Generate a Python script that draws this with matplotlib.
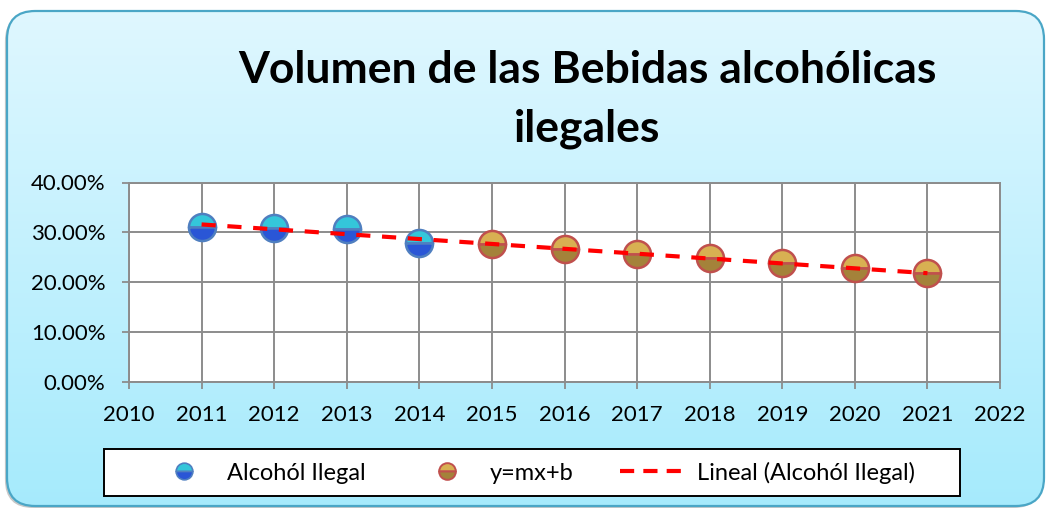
import numpy as np
import matplotlib
matplotlib.use("Agg")
import matplotlib.pyplot as plt
from matplotlib.patches import FancyBboxPatch, Rectangle
from matplotlib.lines import Line2D
from matplotlib.ticker import FuncFormatter

# data
years_obs = [2011, 2012, 2013, 2014]
alcohol_ilegal = [31.1, 30.8, 30.6, 27.9]
years_proj = [2015, 2016, 2017, 2018, 2019, 2020, 2021]
proyeccion = [27.7, 26.7, 25.7, 24.8, 23.8, 22.9, 21.8]

title = "Volumen de las Bebidas alcohólicas\nilegales"
labels = ["Alcohól Ilegal", "y=mx+b", "Lineal (Alcohól Ilegal)"]

plt.rcParams['font.family'] = ['Lato', 'DejaVu Sans']

W, H = 1046, 509
fig = plt.figure(figsize=(W / 100, H / 100), dpi=100)
fig.patch.set_facecolor('white')

# rounded background with vertical gradient
bg = fig.add_axes([0, 0, 1, 1])
bg.set_xlim(0, 1)
bg.set_ylim(0, 1)
bg.axis('off')
shadow = FancyBboxPatch((7 / W - 0.002, 1 - 508 / H), 1037 / W, 495 / H,
                        boxstyle="round,pad=0,rounding_size=0.027",
                        mutation_aspect=W / H, facecolor='#c8c8c8',
                        edgecolor='none', transform=bg.transAxes, zorder=0)
bg.add_patch(shadow)
box = FancyBboxPatch((7 / W, 1 - 506 / H), 1037 / W, 495 / H,
                     boxstyle="round,pad=0,rounding_size=0.027",
                     mutation_aspect=W / H,
                     facecolor='none', edgecolor='#4aa6c6', linewidth=1.6,
                     transform=bg.transAxes, zorder=3)
bg.add_patch(box)
grad = np.linspace(0, 1, 256).reshape(-1, 1)
top = np.array([0.88, 0.97, 1.0])
bot = np.array([0.65, 0.92, 0.99])
img = top + (bot - top) * grad[..., None]
im = bg.imshow(img, extent=(0, 1, 0, 1), origin='upper', aspect='auto', zorder=1)
im.set_clip_path(box)

fig.text(0.5617, 0.805, title, ha='center', va='center', fontsize=32,
         fontweight='bold', linespacing=1.55)

ax = fig.add_axes([129 / W, 1 - 381.5 / H, 871 / W, 199 / H])
ax.set_facecolor('white')
ax.set_xlim(2010, 2022)
ax.set_ylim(0, 40)
ax.set_xticks(range(2010, 2023))
ax.set_yticks([0, 10, 20, 30, 40])
ax.yaxis.set_major_formatter(FuncFormatter(lambda v, p: f"{v:.2f}%"))
ax.grid(True, color='#8c8c8c', linewidth=1.4)
ax.set_axisbelow(True)
for s in ax.spines.values():
    s.set_color('#8c8c8c')
    s.set_linewidth(1.4)
ax.tick_params(axis='both', labelsize=16, color='#8c8c8c', length=5, width=1.3)
ax.tick_params(axis='x', pad=12)
ax.tick_params(axis='y', pad=12)

# trend line from the observed points
m, b = np.polyfit(years_obs, alcohol_ilegal, 1)
tx = np.array([years_obs[0], years_proj[-1]])
ax.plot(tx, m * tx + b, color='#ff0000', linestyle=(0, (3.4, 2.8)),
        linewidth=3, zorder=4)

ax.plot(years_obs, alcohol_ilegal, linestyle='None', marker='o', markersize=19.5,
        fillstyle='top', markerfacecolor='#34c6da', markerfacecoloralt='#2a56d6',
        markeredgecolor='#4f7fc0', markeredgewidth=1.8, zorder=3)
ax.plot(years_proj, proyeccion, linestyle='None', marker='o', markersize=19.5,
        fillstyle='top', markerfacecolor='#d8b052', markerfacecoloralt='#a4823a',
        markeredgecolor='#c0504d', markeredgewidth=1.8, zorder=3)

handles = [
    Line2D([], [], linestyle='None', marker='o', markersize=12, fillstyle='top',
           markerfacecolor='#34c6da', markerfacecoloralt='#2a56d6',
           markeredgecolor='#4f7fc0', markeredgewidth=1.2),
    Line2D([], [], linestyle='None', marker='o', markersize=12, fillstyle='top',
           markerfacecolor='#d8b052', markerfacecoloralt='#a4823a',
           markeredgecolor='#c0504d', markeredgewidth=1.4),
    Line2D([], [], color='#ff0000', linestyle=(0, (3.4, 2.2)), linewidth=3),
]

# legend frame
fig.patches.append(Rectangle((104 / W, 1 - 496 / H), 856 / W, 47 / H,
                             transform=fig.transFigure, facecolor='white',
                             edgecolor='black', linewidth=1.4, zorder=5))
leg = fig.legend(handles, labels, loc='center left',
                 bbox_to_anchor=(150 / W, 1 - 472.5 / H),
                 ncol=3, fontsize=17, frameon=False,
                 handlelength=2.9, handletextpad=0.35, borderaxespad=0,
                 borderpad=0, columnspacing=2.0)
leg.set_zorder(6)

fig.savefig('out.png', dpi=100)
